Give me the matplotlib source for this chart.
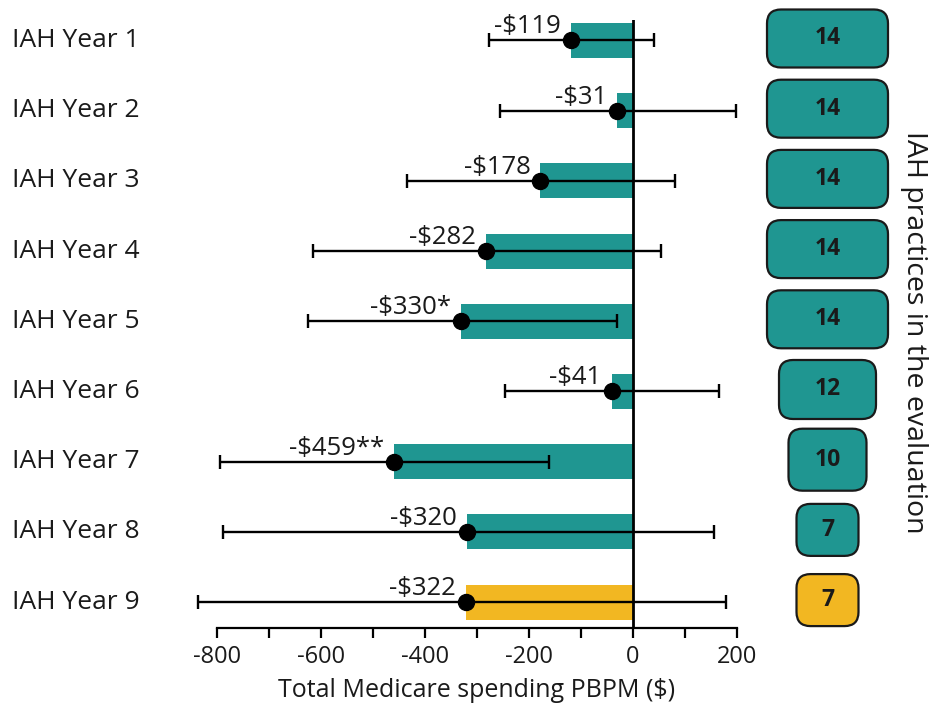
import numpy as np
import matplotlib
matplotlib.use("Agg")
import matplotlib.pyplot as plt
from matplotlib.patches import FancyBboxPatch
from matplotlib import transforms

# ---- data ----
years = ["IAH Year 1", "IAH Year 2", "IAH Year 3", "IAH Year 4", "IAH Year 5",
         "IAH Year 6", "IAH Year 7", "IAH Year 8", "IAH Year 9"]
estimates = [-119, -31, -178, -282, -330, -41, -459, -320, -322]
ci_low = [-276, -256, -435, -616, -625, -246, -795, -789, -837]
ci_high = [40, 198, 82, 55, -31, 166, -161, 157, 179]
significance = ["", "", "", "", "*", "", "**", "", ""]
practices = [14, 14, 14, 14, 14, 12, 10, 7, 7]
x_ticks = [-800, -600, -400, -200, 0, 200]

# ---- style ----
TEAL = "#1F9691"
GOLD = "#F2B722"
INK = "#1a1a1a"
bar_colors = [TEAL] * 8 + [GOLD]
badge_w = {14: 121, 12: 97, 10: 78, 7: 62}   # pixels
badge_h = {14: 58, 12: 59, 10: 62, 7: 52}    # pixels

plt.rcParams["font.family"] = ["Open Sans", "DejaVu Sans"]
plt.rcParams["text.color"] = INK

W, H = 938, 703
fig = plt.figure(figsize=(W / 100, H / 100), dpi=100)

# main panel, positioned in pixel terms
L, R, T, B = 186, 742, 20, 628
ax = fig.add_axes([L / W, 1 - B / H, (R - L) / W, (B - T) / H])

rows = np.arange(len(years))
est = np.array(estimates, dtype=float)
lo = np.array(ci_low, dtype=float)
hi = np.array(ci_high, dtype=float)

ax.barh(rows, est, height=0.5, color=bar_colors, zorder=2)
ax.axvline(0, color="black", lw=2.0, zorder=3)
ax.errorbar(est, rows, xerr=[est - lo, hi - est], fmt="o", color="black",
            ms=11.5, elinewidth=1.7, capsize=5, capthick=1.7, zorder=4)

ax.set_xlim(-860, 210)
ax.set_ylim(8.369, -0.292)

for r, v, s in zip(rows, est, significance):
    ax.annotate(f"-${abs(int(v))}{s}", (v, r), xytext=(-10, 7),
                textcoords="offset pixels", ha="right", va="baseline",
                fontsize=18.5, color=INK, zorder=5)

# row labels at the left edge of the figure
lab_tr = transforms.blended_transform_factory(fig.transFigure, ax.transData)
for r, name in zip(rows, years):
    ax.text(12 / W, r, name, transform=lab_tr, ha="left", va="center",
            fontsize=19, color=INK)

for side in ("top", "right", "left"):
    ax.spines[side].set_visible(False)
ax.spines["bottom"].set_bounds(x_ticks[0], x_ticks[-1])
ax.spines["bottom"].set_linewidth(1.6)
ax.set_yticks([])
ax.set_xticks(x_ticks)
ax.set_xticklabels([str(t) for t in x_ticks])
ax.set_xticks(np.arange(x_ticks[0], x_ticks[-1] + 1, 100), minor=True)
ax.tick_params(axis="x", which="both", length=7, width=1.6, color="black",
               labelsize=17, labelcolor=INK, pad=5)
ax.set_xlabel("Total Medicare spending PBPM ($)", fontsize=18, color=INK,
              labelpad=7)
mid = np.mean([x_ticks[0], x_ticks[-1]])
ax.xaxis.label.set_x((mid - ax.get_xlim()[0]) / (ax.get_xlim()[1] - ax.get_xlim()[0]))

# badge column: axes in pixel units, row centres taken from the main axes
BL, BR = 750, 905
bax = fig.add_axes([BL / W, 1 - B / H, (BR - BL) / W, (B - T) / H])
bax.set_xlim(BL, BR)
bax.set_ylim(B, T)
bax.axis("off")
cx = 827.5
for r, n, c in zip(rows, practices, bar_colors):
    disp = ax.transData.transform((0, r))
    cy = H - disp[1] - 2
    w, h = badge_w[n], badge_h[n]
    box = FancyBboxPatch((cx - w / 2, cy - h / 2), w, h,
                         boxstyle="round,pad=0,rounding_size=14",
                         facecolor=c, edgecolor=INK, lw=1.6, zorder=2,
                         clip_on=False)
    bax.add_patch(box)
    bax.text(cx, cy, str(n), ha="center", va="center", fontsize=16.5,
             fontweight="bold", color=INK, zorder=3, clip_on=False)

fig.text(914 / W, 1 - 332 / H, "IAH practices in the evaluation",
         rotation=-90, ha="center", va="center", fontsize=20.5, color=INK)

fig.savefig("out.png", dpi=100)
